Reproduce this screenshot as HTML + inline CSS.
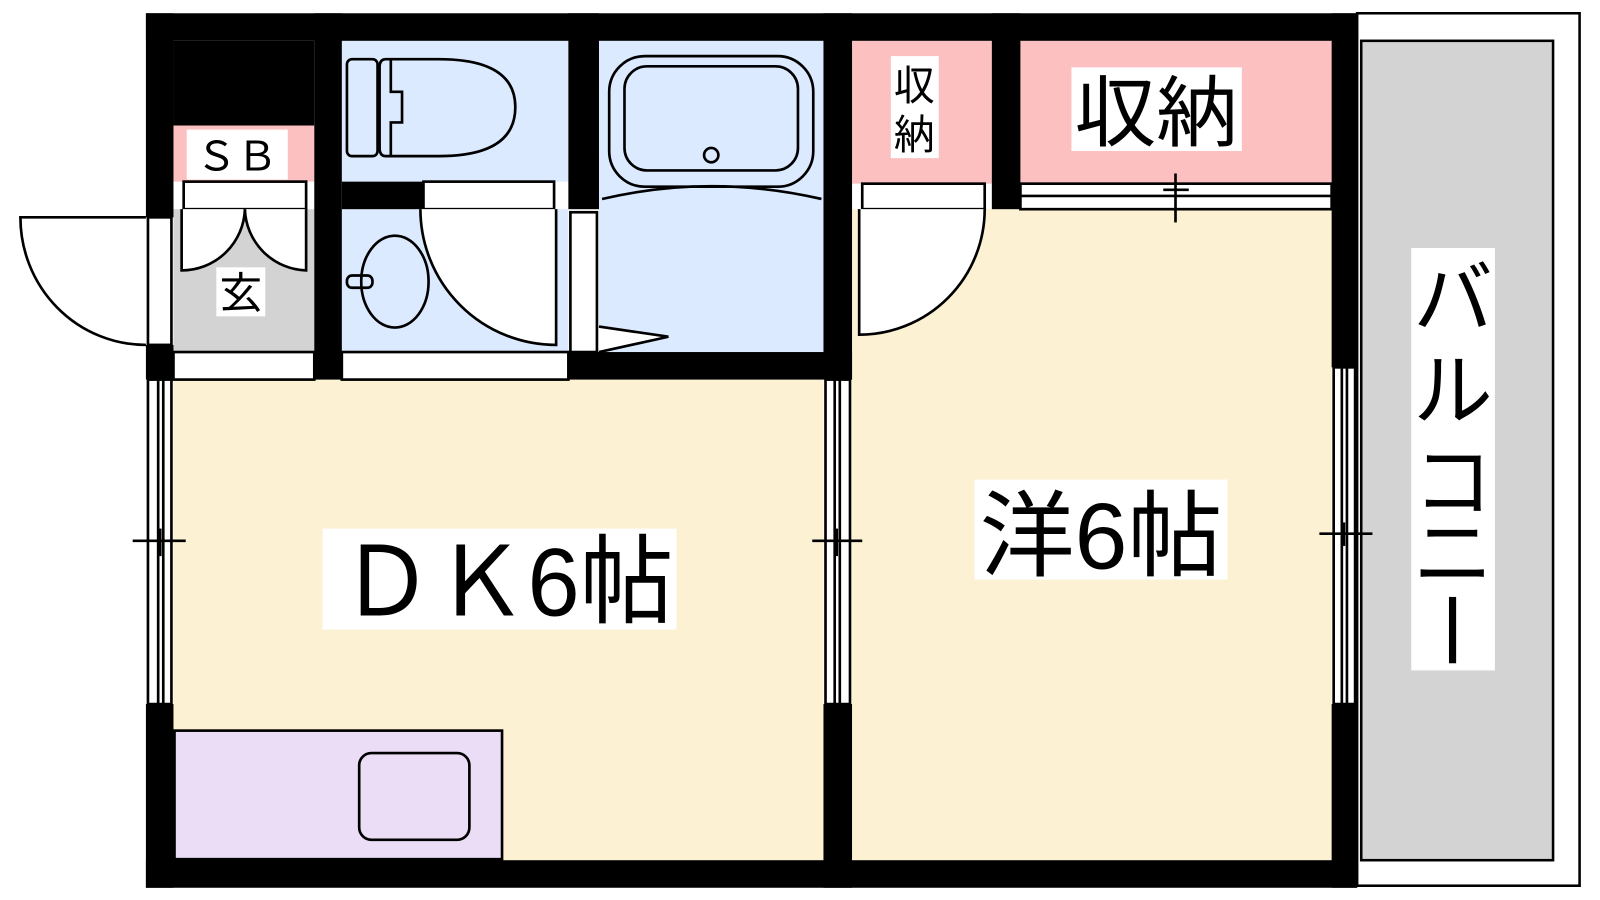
<!DOCTYPE html>
<html><head><meta charset="utf-8"><style>
html,body{margin:0;padding:0;background:#fff;}
svg{display:block;}
text{font-family:"Liberation Sans","Noto Sans CJK JP",sans-serif;fill:#000;}
</style></head><body>
<svg width="1600" height="900" viewBox="0 0 1568 882" preserveAspectRatio="none" xmlns="http://www.w3.org/2000/svg">
<rect width="1568" height="882" fill="#fff"/>
<rect x="1330" y="13" width="218" height="855" fill="#fff" stroke="#000" stroke-width="2.5"/>
<rect x="1334" y="40" width="188" height="803" fill="#d3d3d3" stroke="#000" stroke-width="2.5"/>
<rect x="170" y="372" width="637" height="471" fill="#fdf1d3"/>
<rect x="835" y="205" width="470" height="638" fill="#fdf1d3"/>
<rect x="335" y="40" width="222" height="138" fill="#dbeafe"/>
<rect x="335" y="205" width="222" height="140" fill="#dbeafe"/>
<rect x="587" y="40" width="220" height="305" fill="#dbeafe"/>
<rect x="170" y="205" width="138" height="140" fill="#d3d3d3"/>
<rect x="170" y="123" width="138" height="55" fill="#fcc0c0"/>
<rect x="835" y="40" width="137" height="140" fill="#fcc0c0"/>
<rect x="1000" y="40" width="305" height="140" fill="#fcc0c0"/>
<g fill="#000">
<rect x="143" y="13" width="1187" height="27"/>
<rect x="143" y="843" width="1187" height="27"/>
<rect x="143" y="13" width="27" height="200"/>
<rect x="143" y="338" width="27" height="34"/>
<rect x="143" y="690" width="27" height="180"/>
<rect x="170" y="40" width="138" height="83"/>
<rect x="308" y="13" width="27" height="359"/>
<rect x="557" y="13" width="30" height="192"/>
<rect x="335" y="178" width="80" height="27"/>
<rect x="557" y="345" width="278" height="27"/>
<rect x="807" y="13" width="28" height="359"/>
<rect x="807" y="690" width="28" height="180"/>
<rect x="972" y="13" width="28" height="192"/>
<rect x="1305" y="13" width="25" height="347"/>
<rect x="1305" y="690" width="25" height="180"/>
</g>
<g fill="#fff" stroke="#000" stroke-width="2.6">
<rect x="180" y="178" width="120" height="27"/>
<rect x="415" y="178" width="128" height="27"/>
<rect x="170" y="345" width="138" height="27"/>
<rect x="335" y="345" width="222" height="27"/>
<rect x="845" y="180" width="120" height="25"/>
<rect x="1000" y="180" width="305" height="25"/>
<rect x="145" y="213" width="23" height="125"/>
<rect x="559" y="208" width="26" height="137"/>
<rect x="145" y="372" width="23" height="318"/>
<rect x="809" y="372" width="24" height="318"/>
<rect x="1307" y="360" width="21" height="330"/>
</g>
<g stroke="#000" stroke-width="2.6" fill="none">
<line x1="1000" y1="192" x2="1305" y2="192"/>
<line x1="1152" y1="170" x2="1152" y2="218"/><line x1="1140" y1="186" x2="1165" y2="186"/>
<line x1="155" y1="372" x2="155" y2="690"/><line x1="160" y1="372" x2="160" y2="690"/>
<line x1="130" y1="530" x2="182" y2="530"/><line x1="157" y1="518" x2="157" y2="545"/>
<line x1="818" y1="372" x2="818" y2="690"/><line x1="823" y1="372" x2="823" y2="690"/>
<line x1="796" y1="530" x2="845" y2="530"/><line x1="820" y1="518" x2="820" y2="545"/>
<line x1="1315" y1="360" x2="1315" y2="690"/><line x1="1320" y1="360" x2="1320" y2="690"/>
<line x1="1293" y1="523" x2="1345" y2="523"/><line x1="1317" y1="512" x2="1317" y2="535"/>
<path d="M143 213 H20 A123 125 0 0 0 143 338" fill="#fff"/>
<path d="M178 205 V265 A62 62 0 0 0 240 205" fill="#fff"/>
<path d="M300 205 V265 A62 62 0 0 1 240 205" fill="#fff"/>
<path d="M545 205 V338 A133 133 0 0 1 412 205" fill="#fff"/>
<path d="M842 205 V328 A123 123 0 0 0 965 205" fill="#fff"/>
<path d="M587 320 L655 330 L587 345" fill="#fff"/>
<rect x="340" y="58" width="30" height="95" rx="5"/>
<path d="M378 58 H430 Q505 58 505 105 Q505 153 430 153 H378 Q372 153 372 145 V66 Q372 58 378 58 Z"/>
<path d="M383 58 V90 H394 V120 H383 V153"/>
<ellipse cx="387" cy="276" rx="33" ry="45"/>
<rect x="340" y="270" width="25" height="12" rx="5"/>
<rect x="597" y="55" width="200" height="128" rx="35"/>
<rect x="612" y="65" width="170" height="102" rx="22"/>
<circle cx="697" cy="152" r="7"/>
<path d="M590 195 Q697 170 805 195"/>
<rect x="171" y="716" width="321" height="126" fill="#eaddf5"/>
<rect x="352" y="738" width="108" height="85" rx="12"/>
</g>
<rect x="183" y="127" width="99" height="49" fill="#fff"/>
<text x="232" y="167" font-size="40" text-anchor="middle" textLength="80" lengthAdjust="spacingAndGlyphs">ＳＢ</text>
<rect x="212" y="262" width="48" height="48" fill="#fff"/>
<text x="236" y="302" font-size="42" text-anchor="middle">玄</text>
<rect x="873" y="55" width="47" height="100" fill="#fff"/>
<text x="896" y="98" font-size="40" text-anchor="middle">収</text>
<text x="896" y="146" font-size="40" text-anchor="middle">納</text>
<rect x="1050" y="66" width="167" height="82" fill="#fff"/>
<text x="1133" y="137" font-size="76" text-anchor="middle" textLength="160" lengthAdjust="spacingAndGlyphs">収納</text>
<rect x="316" y="518" width="347" height="99" fill="#fff"/>
<text x="333" y="603" font-size="95" textLength="327" lengthAdjust="spacingAndGlyphs">ＤＫ6帖</text>
<rect x="955" y="470" width="248" height="98" fill="#fff"/>
<text x="960" y="557" font-size="92" textLength="238" lengthAdjust="spacingAndGlyphs">洋6帖</text>
<rect x="1383" y="243" width="82" height="414" fill="#fff"/>
<g font-size="78" text-anchor="middle">
<text x="1424" y="320">バ</text>
<text x="1424" y="410">ル</text>
<text x="1424" y="500">コ</text>
<text x="1424" y="570">ニ</text>
</g>
<rect x="1420" y="585" width="7" height="65" fill="#000"/>
</svg>
</body></html>
